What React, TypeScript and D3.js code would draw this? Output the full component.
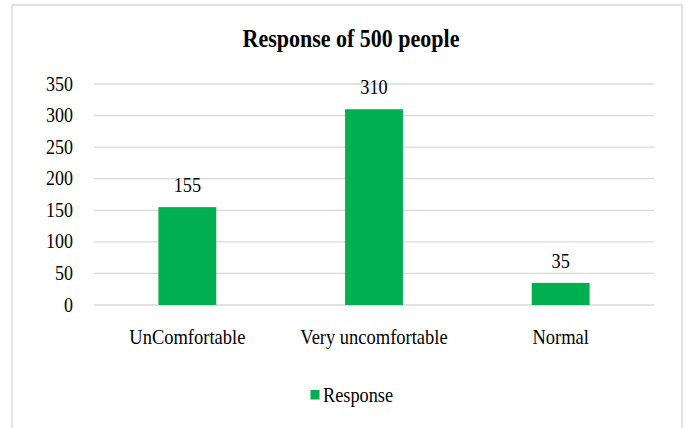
import React from "react";
import * as d3 from "d3";

const categories = ["UnComfortable", "Very uncomfortable", "Normal"];
const responses = [155, 310, 35];
const yTicks = [0, 50, 100, 150, 200, 250, 300, 350];
const seriesName = "Response";
const title = "Response of 500 people";

const font = "Liberation Serif, Times New Roman, DejaVu Serif, serif";
const SY = 1.12;

function T({ x, y, anchor = "start", size = 18.3, bold = false, children }: any) {
  return (
    <text
      transform={`translate(${x},${y}) scale(1,${SY})`}
      textAnchor={anchor}
      style={{ fontFamily: font, fontSize: `${size}px`, fontWeight: bold ? "bold" : "normal" }}
      fill="#000"
    >
      {children}
    </text>
  );
}

export default function App() {
  const W = 686, H = 428;
  const left = 94, right = 654, top = 84, bottom = 305;
  const x = d3.scaleBand<string>().domain(categories).range([left, right]).paddingInner(0.69).paddingOuter(0.345);
  const y = d3.scaleLinear().domain([0, 350]).range([bottom, top]);
  const green = "#00B050";
  return (
    <svg width={W} height={H} style={{ position: "absolute", left: 0, top: 0, background: "#fff" }}>
      <rect x={12} y={5} width={670} height={440} fill="#fff" stroke="#d9d9d9" strokeWidth={1.5} />
      <T x={351} y={47} anchor="middle" size={22} bold>{title}</T>
      {yTicks.map(t => (
        <g key={t}>
          <line x1={left} x2={right} y1={y(t)} y2={y(t)} stroke="#d9d9d9" strokeWidth={1.3} />
          <T x={73} y={y(t) + 6.5} anchor="end" size={18}>{t}</T>
        </g>
      ))}
      {categories.map((c, i) => (
        <g key={c}>
          <rect x={x(c)} y={y(responses[i])} width={x.bandwidth()} height={y(0) - y(responses[i])} fill={green} />
          <T x={(x(c) as number) + x.bandwidth() / 2} y={y(responses[i]) - 15} anchor="middle">{responses[i]}</T>
          <T x={(x(c) as number) + x.bandwidth() / 2} y={344} anchor="middle" size={18.5}>{c}</T>
        </g>
      ))}
      <rect x={310.5} y={390} width={9} height={9.5} fill={green} />
      <T x={323} y={401.5}>{seriesName}</T>
    </svg>
  );
}
